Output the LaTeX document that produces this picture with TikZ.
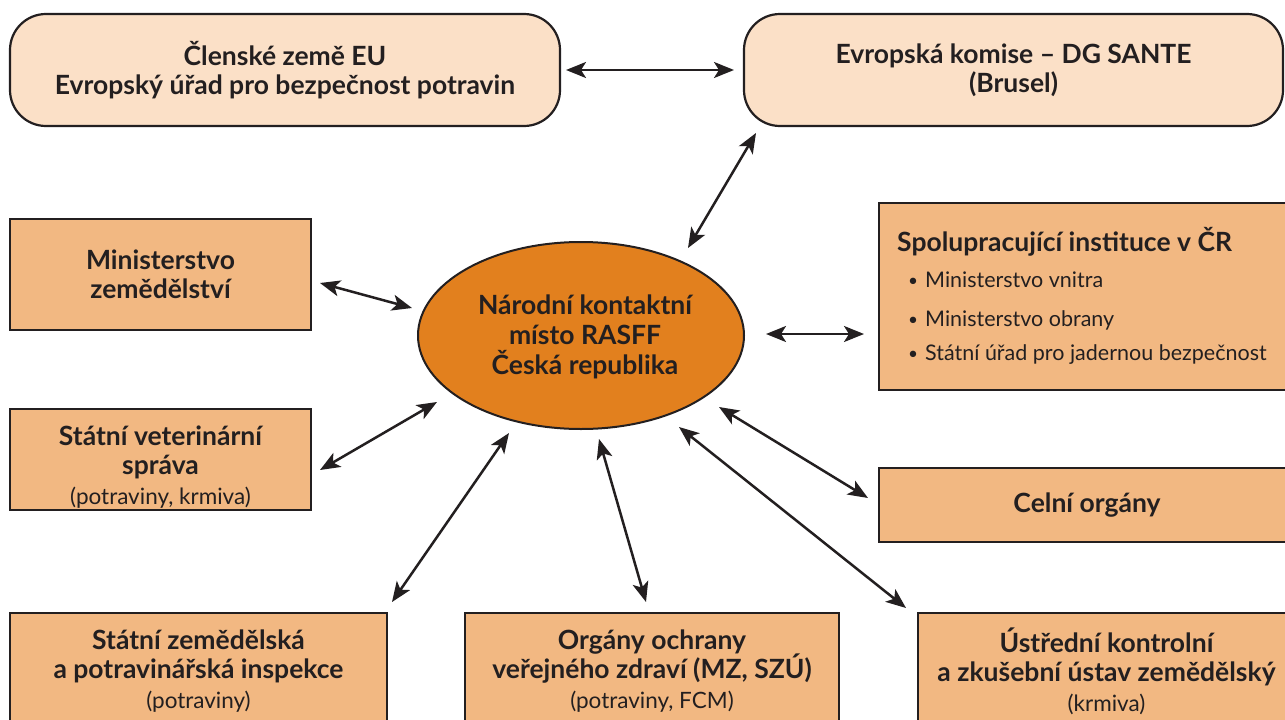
\documentclass[tikz,border=0pt]{standalone}
\usepackage{fontspec}
\setmainfont{Lato}
\usetikzlibrary{arrows.meta,shapes.geometric}
\definecolor{lightfill}{HTML}{FBE0C7}
\definecolor{medfill}{HTML}{F2B882}
\definecolor{ellfill}{HTML}{E2801E}
\definecolor{ink}{HTML}{231F20}
\newcommand{\regtext}{\mdseries\fontsize{22.5}{29.5}\selectfont}
\tikzset{
  lightbox/.style={draw=ink, line width=2.2pt, fill=lightfill, rounded corners=36pt, align=center, text=ink, font=\bfseries\fontsize{26.5}{29.5}\selectfont},
  medbox/.style={draw=ink, line width=2.2pt, fill=medfill, align=center, text=ink, font=\bfseries\fontsize{26.5}{29.5}\selectfont},
  ellnode/.style={draw=ink, line width=2pt, fill=ellfill, ellipse, align=center, text=ink, font=\bfseries\fontsize{26.5}{30}\selectfont},
  txt/.style={align=center, text=ink, font=\bfseries\fontsize{26.5}{29.5}\selectfont, inner sep=0pt},
  bul/.style={anchor=west, text=ink, font=\fontsize{21.5}{24}\selectfont, inner sep=0pt},
  arr/.style={draw=ink, line width=2.5pt, {Stealth[length=20pt,width=16pt,inset=5pt]}-{Stealth[length=20pt,width=16pt,inset=5pt]}}
}
\begin{document}
\begin{tikzpicture}[x=1pt,y=-1pt]
\clip (0,0) rectangle (1285,720);
\fill[white] (0,0) rectangle (1285,720);

% top boxes
\node[lightbox, minimum width=550, minimum height=112] (eu) at (285,70) {Členské země EU\\Evropský úřad pro bezpečnost potravin};
\node[lightbox, minimum width=539, minimum height=112] (dg) at (1013.5,70) {Evropská komise – DG SANTE\\(Brusel)};

% left boxes
\node[medbox, minimum width=301, minimum height=111] (min) at (160.5,274.5) {Ministerstvo\\zemědělství};
\node[medbox, minimum width=301, minimum height=101] (svs) at (160.5,459.5) {};
\node[txt] (svst) at (160.5,467) {Státní veterinární\\správa\\{\regtext (potraviny, krmiva)}};

% right boxes
\node[medbox, minimum width=416, minimum height=187] (spol) at (1087,296.5) {};
\node[txt, anchor=west] (spolt) at (897,242) {Spolupracující instituce v ČR};
\node[bul] (b1) at (908,280) {\raisebox{1pt}{\scalebox{0.8}{•}}\hspace{7pt}Ministerstvo vnitra};
\node[bul] (b2) at (908,320) {\raisebox{1pt}{\scalebox{0.8}{•}}\hspace{7pt}Ministerstvo obrany};
\node[bul] (b3) at (908,355) {\raisebox{1pt}{\scalebox{0.8}{•}}\hspace{7pt}Státní úřad pro jadernou bezpečnost};
\node[medbox, minimum width=416, minimum height=74] (celni) at (1087,505) {Celní orgány};

% bottom boxes
\node[medbox, minimum width=377, minimum height=116] (szpi) at (198.5,671) {Státní zemědělská\\a potravinářská inspekce\\{\regtext (potraviny)}};
\node[medbox, minimum width=374, minimum height=116] (org) at (652,671) {Orgány ochrany\\veřejného zdraví (MZ, SZÚ)\\{\regtext (potraviny, FCM)}};
\node[medbox, minimum width=377, minimum height=116] (ukz) at (1106.5,671) {Ústřední kontrolní\\a zkušební ústav zemědělský\\{\regtext (krmiva)}};

% central ellipse
\node[ellnode, minimum width=326, minimum height=187, inner sep=0pt] (ell) at (581,335.5) {};
\node[txt, font=\bfseries\fontsize{26.5}{30}\selectfont] (ellt) at (585,337) {Národní kontaktní\\místo RASFF\\Česká republika};

% connector end points
\coordinate (euR) at (566,70);   \coordinate (dgL) at (734,70);
\coordinate (ellDG) at (688,248); \coordinate (dgB) at (756,133);
\coordinate (minR) at (320,283); \coordinate (ellMin) at (412,308);
\coordinate (svsR) at (320,470); \coordinate (ellSvs) at (437,402);
\coordinate (szpiT) at (392,602); \coordinate (ellSzpi) at (509,433);
\coordinate (ellOrg) at (599,439); \coordinate (orgT) at (646,602);
\coordinate (ellUkz) at (679,427); \coordinate (ukzT) at (906,608);
\coordinate (ellCel) at (719,407); \coordinate (celL) at (868,498);
\coordinate (ellSpol) at (766,334); \coordinate (spolL) at (864,334);

\draw[arr] (euR) -- (dgL);
\draw[arr] (ellDG) -- (dgB);
\draw[arr] (minR) -- (ellMin);
\draw[arr] (svsR) -- (ellSvs);
\draw[arr] (szpiT) -- (ellSzpi);
\draw[arr] (ellOrg) -- (orgT);
\draw[arr] (ellUkz) -- (ukzT);
\draw[arr] (ellCel) -- (celL);
\draw[arr] (ellSpol) -- (spolL);
\end{tikzpicture}
\end{document}
